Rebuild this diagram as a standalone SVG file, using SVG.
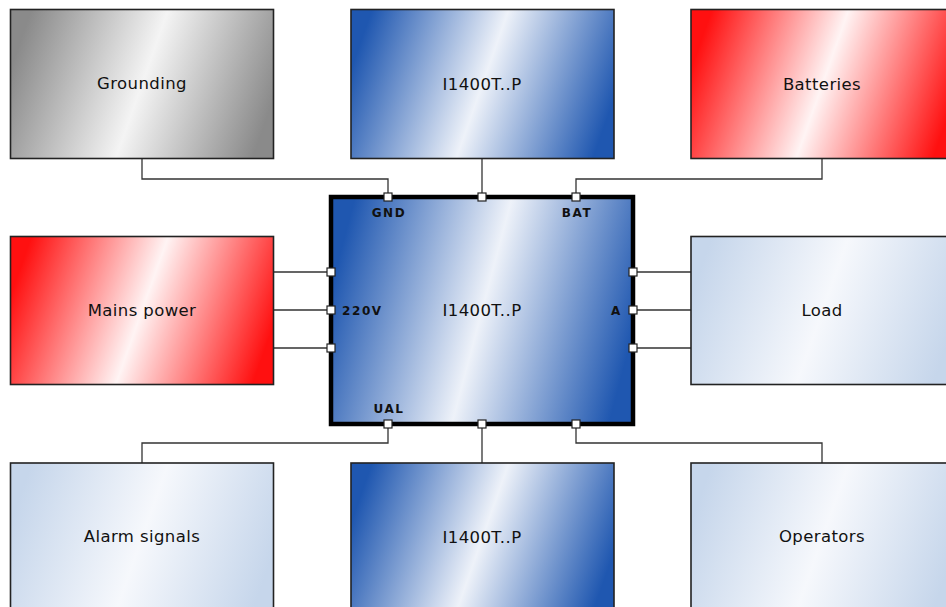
<svg xmlns="http://www.w3.org/2000/svg" width="946" height="607" viewBox="0 0 946 607">
<defs>
<linearGradient id="gGray" x1="0" y1="0.4" x2="1" y2="0.6"><stop offset="0" stop-color="#8a8a8a"/><stop offset="0.5" stop-color="#f4f4f4"/><stop offset="1" stop-color="#8a8a8a"/></linearGradient>
<linearGradient id="gBlue" x1="0" y1="0.4" x2="1" y2="0.6"><stop offset="0" stop-color="#1f57b0"/><stop offset="0.5" stop-color="#eef2f9"/><stop offset="1" stop-color="#1f57b0"/></linearGradient>
<linearGradient id="gRed" x1="0" y1="0.4" x2="1" y2="0.6"><stop offset="0" stop-color="#ff1010"/><stop offset="0.5" stop-color="#fff4f4"/><stop offset="1" stop-color="#ff1010"/></linearGradient>
<linearGradient id="gLight" x1="0" y1="0.4" x2="1" y2="0.6"><stop offset="0" stop-color="#c6d6eb"/><stop offset="0.5" stop-color="#f6f8fc"/><stop offset="1" stop-color="#c6d6eb"/></linearGradient>
</defs>
<style>
.box{stroke:#222;stroke-width:1.6}
.lbl{font-family:"DejaVu Sans",sans-serif;font-size:16.5px;fill:#111;text-anchor:middle;letter-spacing:0.4px}
.port{fill:#fff;stroke:#222;stroke-width:1.2}
.plbl{font-family:"DejaVu Sans",sans-serif;font-size:12px;font-weight:bold;fill:#111;letter-spacing:1.6px}
.conn{fill:none;stroke:#333;stroke-width:1.3}
</style>
<rect width="946" height="607" fill="#fff"/>
<g id="connectors">
<path class="conn" d="M142 158.5V179H388V197"/>
<path class="conn" d="M482 158.5V197"/>
<path class="conn" d="M822 158.5V179H576V197"/>
<path class="conn" d="M270 272H331M273 310H331M270 348H331"/>
<path class="conn" d="M633 272H693M633 310H691M633 348H693"/>
<path class="conn" d="M388 424V443H142V463"/>
<path class="conn" d="M482 424V463"/>
<path class="conn" d="M576 424V443H822V463"/>
</g>
<g id="grounding"><rect class="box" x="10.5" y="9.5" width="263" height="149" fill="url(#gGray)"/><text class="lbl" x="142" y="89">Grounding</text></g>
<g id="top-unit"><rect class="box" x="351" y="9.5" width="263" height="149" fill="url(#gBlue)"/><text class="lbl" x="482" y="90">I1400T..P</text></g>
<g id="batteries"><rect class="box" x="691" y="9.5" width="263" height="149" fill="url(#gRed)"/><text class="lbl" x="822" y="90">Batteries</text></g>
<g id="mains-power"><rect class="box" x="10.5" y="236.5" width="263" height="148" fill="url(#gRed)"/><text class="lbl" x="142" y="316">Mains power</text></g>
<g id="load"><rect class="box" x="691" y="236.5" width="263" height="148" fill="url(#gLight)"/><text class="lbl" x="822" y="316">Load</text></g>
<g id="alarm-signals"><rect class="box" x="10.5" y="463" width="263" height="149" fill="url(#gLight)"/><text class="lbl" x="142" y="542">Alarm signals</text></g>
<g id="bottom-unit"><rect class="box" x="351" y="463" width="263" height="149" fill="url(#gBlue)"/><text class="lbl" x="482" y="543">I1400T..P</text></g>
<g id="operators"><rect class="box" x="691" y="463" width="263" height="149" fill="url(#gLight)"/><text class="lbl" x="822" y="542">Operators</text></g>
<g id="center-unit">
<rect x="331" y="197" width="302" height="227" fill="url(#gBlue)" stroke="#000" stroke-width="4.5"/>
<text class="lbl" x="482" y="316">I1400T..P</text>
<text class="plbl" x="389" y="217" text-anchor="middle">GND</text>
<text class="plbl" x="577" y="217" text-anchor="middle">BAT</text>
<text class="plbl" x="342" y="315">220V</text>
<text class="plbl" x="611" y="315">A</text>
<text class="plbl" x="389" y="413" text-anchor="middle">UAL</text>
<rect class="port" x="384" y="193" width="8" height="8"/>
<rect class="port" x="478" y="193" width="8" height="8"/>
<rect class="port" x="572" y="193" width="8" height="8"/>
<rect class="port" x="384" y="420" width="8" height="8"/>
<rect class="port" x="478" y="420" width="8" height="8"/>
<rect class="port" x="572" y="420" width="8" height="8"/>
<rect class="port" x="327" y="268" width="8" height="8"/>
<rect class="port" x="327" y="306" width="8" height="8"/>
<rect class="port" x="327" y="344" width="8" height="8"/>
<rect class="port" x="629" y="268" width="8" height="8"/>
<rect class="port" x="629" y="306" width="8" height="8"/>
<rect class="port" x="629" y="344" width="8" height="8"/>
</g>
</svg>
